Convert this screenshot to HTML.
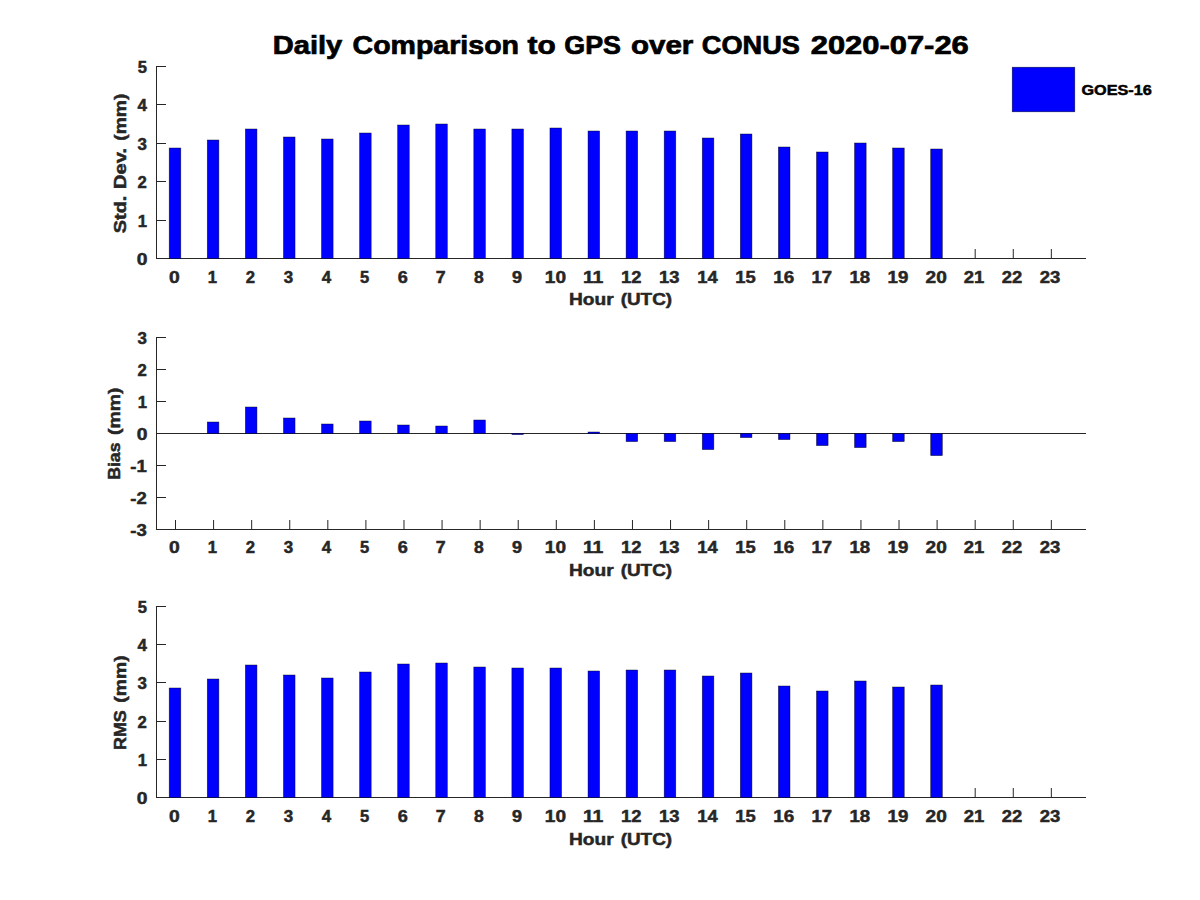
<!DOCTYPE html>
<html><head><meta charset="utf-8"><title>Daily Comparison to GPS over CONUS 2020-07-26</title>
<style>
html,body{margin:0;padding:0;background:#fff;width:1200px;height:900px;overflow:hidden}
svg{display:block}
text{font-family:"Liberation Sans",sans-serif;font-weight:bold}
</style></head>
<body>
<svg width="1200" height="900" viewBox="0 0 1200 900">
<rect x="0" y="0" width="1200" height="900" fill="#fff"/>
<text transform="translate(272.75 53.55) scale(1.1635 1)" font-size="25.02" fill="#000" stroke="#000" stroke-width="0.7">Daily</text>
<text transform="translate(352.56 53.55) scale(1.1403 1)" font-size="25.02" fill="#000" stroke="#000" stroke-width="0.7">Comparison</text>
<text transform="translate(527.56 53.55) scale(1.1957 1)" font-size="25.02" fill="#000" stroke="#000" stroke-width="0.7">to</text>
<text transform="translate(564.3 53.55) scale(1.0738 1)" font-size="25.02" fill="#000" stroke="#000" stroke-width="0.7">GPS</text>
<text transform="translate(630.93 53.55) scale(1.1801 1)" font-size="25.02" fill="#000" stroke="#000" stroke-width="0.7">over</text>
<text transform="translate(701.79 53.55) scale(1.0865 1)" font-size="25.02" fill="#000" stroke="#000" stroke-width="0.7">CONUS</text>
<text transform="translate(810.74 53.55) scale(1.2348 1)" font-size="25.02" fill="#000" stroke="#000" stroke-width="0.7">2020-07-26</text>
<rect x="156" y="66" width="1" height="193" fill="#262626"/>
<rect x="156" y="258" width="930" height="1" fill="#262626"/>
<rect x="156" y="258" width="10" height="1" fill="#262626"/>
<rect x="156" y="220" width="10" height="1" fill="#262626"/>
<rect x="156" y="181" width="10" height="1" fill="#262626"/>
<rect x="156" y="143" width="10" height="1" fill="#262626"/>
<rect x="156" y="104" width="10" height="1" fill="#262626"/>
<rect x="156" y="66" width="10" height="1" fill="#262626"/>
<rect x="175" y="249" width="1" height="9" fill="#262626"/>
<rect x="213.08" y="249" width="1" height="9" fill="#262626"/>
<rect x="251.16" y="249" width="1" height="9" fill="#262626"/>
<rect x="289.24" y="249" width="1" height="9" fill="#262626"/>
<rect x="327.32" y="249" width="1" height="9" fill="#262626"/>
<rect x="365.4" y="249" width="1" height="9" fill="#262626"/>
<rect x="403.48" y="249" width="1" height="9" fill="#262626"/>
<rect x="441.56" y="249" width="1" height="9" fill="#262626"/>
<rect x="479.64" y="249" width="1" height="9" fill="#262626"/>
<rect x="517.72" y="249" width="1" height="9" fill="#262626"/>
<rect x="555.8" y="249" width="1" height="9" fill="#262626"/>
<rect x="593.88" y="249" width="1" height="9" fill="#262626"/>
<rect x="631.96" y="249" width="1" height="9" fill="#262626"/>
<rect x="670.04" y="249" width="1" height="9" fill="#262626"/>
<rect x="708.12" y="249" width="1" height="9" fill="#262626"/>
<rect x="746.2" y="249" width="1" height="9" fill="#262626"/>
<rect x="784.28" y="249" width="1" height="9" fill="#262626"/>
<rect x="822.36" y="249" width="1" height="9" fill="#262626"/>
<rect x="860.44" y="249" width="1" height="9" fill="#262626"/>
<rect x="898.52" y="249" width="1" height="9" fill="#262626"/>
<rect x="936.6" y="249" width="1" height="9" fill="#262626"/>
<rect x="974.68" y="249" width="1" height="9" fill="#262626"/>
<rect x="1012.76" y="249" width="1" height="9" fill="#262626"/>
<rect x="1050.84" y="249" width="1" height="9" fill="#262626"/>
<rect x="169.2" y="148" width="11.6" height="110.5" fill="#0000ff" stroke="#000" stroke-opacity="0.7" stroke-width="0.6"/>
<rect x="207.27" y="140" width="11.6" height="118.5" fill="#0000ff" stroke="#000" stroke-opacity="0.7" stroke-width="0.6"/>
<rect x="245.35" y="129" width="11.6" height="129.5" fill="#0000ff" stroke="#000" stroke-opacity="0.7" stroke-width="0.6"/>
<rect x="283.43" y="137" width="11.6" height="121.5" fill="#0000ff" stroke="#000" stroke-opacity="0.7" stroke-width="0.6"/>
<rect x="321.5" y="139" width="11.6" height="119.5" fill="#0000ff" stroke="#000" stroke-opacity="0.7" stroke-width="0.6"/>
<rect x="359.57" y="133" width="11.6" height="125.5" fill="#0000ff" stroke="#000" stroke-opacity="0.7" stroke-width="0.6"/>
<rect x="397.65" y="125" width="11.6" height="133.5" fill="#0000ff" stroke="#000" stroke-opacity="0.7" stroke-width="0.6"/>
<rect x="435.73" y="124" width="11.6" height="134.5" fill="#0000ff" stroke="#000" stroke-opacity="0.7" stroke-width="0.6"/>
<rect x="473.8" y="129" width="11.6" height="129.5" fill="#0000ff" stroke="#000" stroke-opacity="0.7" stroke-width="0.6"/>
<rect x="511.87" y="129" width="11.6" height="129.5" fill="#0000ff" stroke="#000" stroke-opacity="0.7" stroke-width="0.6"/>
<rect x="549.95" y="128" width="11.6" height="130.5" fill="#0000ff" stroke="#000" stroke-opacity="0.7" stroke-width="0.6"/>
<rect x="588.03" y="131" width="11.6" height="127.5" fill="#0000ff" stroke="#000" stroke-opacity="0.7" stroke-width="0.6"/>
<rect x="626.1" y="131" width="11.6" height="127.5" fill="#0000ff" stroke="#000" stroke-opacity="0.7" stroke-width="0.6"/>
<rect x="664.18" y="131" width="11.6" height="127.5" fill="#0000ff" stroke="#000" stroke-opacity="0.7" stroke-width="0.6"/>
<rect x="702.25" y="138" width="11.6" height="120.5" fill="#0000ff" stroke="#000" stroke-opacity="0.7" stroke-width="0.6"/>
<rect x="740.33" y="134" width="11.6" height="124.5" fill="#0000ff" stroke="#000" stroke-opacity="0.7" stroke-width="0.6"/>
<rect x="778.4" y="147" width="11.6" height="111.5" fill="#0000ff" stroke="#000" stroke-opacity="0.7" stroke-width="0.6"/>
<rect x="816.48" y="152" width="11.6" height="106.5" fill="#0000ff" stroke="#000" stroke-opacity="0.7" stroke-width="0.6"/>
<rect x="854.55" y="143" width="11.6" height="115.5" fill="#0000ff" stroke="#000" stroke-opacity="0.7" stroke-width="0.6"/>
<rect x="892.63" y="148" width="11.6" height="110.5" fill="#0000ff" stroke="#000" stroke-opacity="0.7" stroke-width="0.6"/>
<rect x="930.7" y="149" width="11.6" height="109.5" fill="#0000ff" stroke="#000" stroke-opacity="0.7" stroke-width="0.6"/>
<text transform="translate(136.87 264.55) scale(1.1149 1)" font-size="17.31" fill="#262626" stroke="#262626" stroke-width="0.5">0</text>
<text transform="translate(137.65 226.55) scale(0.9651 1)" font-size="17.31" fill="#262626" stroke="#262626" stroke-width="0.5">1</text>
<text transform="translate(137.53 187.55) scale(0.9663 1)" font-size="17.31" fill="#262626" stroke="#262626" stroke-width="0.5">2</text>
<text transform="translate(137.52 149.55) scale(0.9780 1)" font-size="17.31" fill="#262626" stroke="#262626" stroke-width="0.5">3</text>
<text transform="translate(137.42 110.55) scale(0.9798 1)" font-size="17.31" fill="#262626" stroke="#262626" stroke-width="0.5">4</text>
<text transform="translate(137.63 72.55) scale(0.9565 1)" font-size="17.31" fill="#262626" stroke="#262626" stroke-width="0.5">5</text>
<text transform="translate(168.93 282.55) scale(1.1149 1)" font-size="17.31" fill="#262626" stroke="#262626" stroke-width="0.5">0</text>
<text transform="translate(207.79 282.55) scale(0.9651 1)" font-size="17.31" fill="#262626" stroke="#262626" stroke-width="0.5">1</text>
<text transform="translate(245.76 282.55) scale(0.9663 1)" font-size="17.31" fill="#262626" stroke="#262626" stroke-width="0.5">2</text>
<text transform="translate(283.83 282.55) scale(0.9780 1)" font-size="17.31" fill="#262626" stroke="#262626" stroke-width="0.5">3</text>
<text transform="translate(321.8 282.55) scale(0.9798 1)" font-size="17.31" fill="#262626" stroke="#262626" stroke-width="0.5">4</text>
<text transform="translate(360.09 282.55) scale(0.9565 1)" font-size="17.31" fill="#262626" stroke="#262626" stroke-width="0.5">5</text>
<text transform="translate(397.85 282.55) scale(1.0449 1)" font-size="17.31" fill="#262626" stroke="#262626" stroke-width="0.5">6</text>
<text transform="translate(435.83 282.55) scale(1.0230 1)" font-size="17.31" fill="#262626" stroke="#262626" stroke-width="0.5">7</text>
<text transform="translate(474.12 282.55) scale(1.0110 1)" font-size="17.31" fill="#262626" stroke="#262626" stroke-width="0.5">8</text>
<text transform="translate(511.89 282.55) scale(1.0449 1)" font-size="17.31" fill="#262626" stroke="#262626" stroke-width="0.5">9</text>
<text transform="translate(544.83 282.55) scale(1.1006 1)" font-size="17.31" fill="#262626" stroke="#262626" stroke-width="0.5">10</text>
<text transform="translate(582.89 282.55) scale(1.1214 1)" font-size="17.31" fill="#262626" stroke="#262626" stroke-width="0.5">11</text>
<text transform="translate(621.03 282.55) scale(1.0611 1)" font-size="17.31" fill="#262626" stroke="#262626" stroke-width="0.5">12</text>
<text transform="translate(659.1 282.55) scale(1.0667 1)" font-size="17.31" fill="#262626" stroke="#262626" stroke-width="0.5">13</text>
<text transform="translate(697.19 282.55) scale(1.0591 1)" font-size="17.31" fill="#262626" stroke="#262626" stroke-width="0.5">14</text>
<text transform="translate(735.27 282.55) scale(1.0604 1)" font-size="17.31" fill="#262626" stroke="#262626" stroke-width="0.5">15</text>
<text transform="translate(773.32 282.55) scale(1.0889 1)" font-size="17.31" fill="#262626" stroke="#262626" stroke-width="0.5">16</text>
<text transform="translate(811.42 282.55) scale(1.0726 1)" font-size="17.31" fill="#262626" stroke="#262626" stroke-width="0.5">17</text>
<text transform="translate(849.49 282.55) scale(1.0773 1)" font-size="17.31" fill="#262626" stroke="#262626" stroke-width="0.5">18</text>
<text transform="translate(887.57 282.55) scale(1.0778 1)" font-size="17.31" fill="#262626" stroke="#262626" stroke-width="0.5">19</text>
<text transform="translate(925.58 282.55) scale(1.1033 1)" font-size="17.31" fill="#262626" stroke="#262626" stroke-width="0.5">20</text>
<text transform="translate(963.67 282.55) scale(1.0695 1)" font-size="17.31" fill="#262626" stroke="#262626" stroke-width="0.5">21</text>
<text transform="translate(1001.75 282.55) scale(1.0649 1)" font-size="17.31" fill="#262626" stroke="#262626" stroke-width="0.5">22</text>
<text transform="translate(1039.83 282.55) scale(1.0703 1)" font-size="17.31" fill="#262626" stroke="#262626" stroke-width="0.5">23</text>
<text transform="translate(569.03 304.5) scale(1.1453 1)" font-size="16.73" fill="#262626" stroke="#262626" stroke-width="0.5">Hour</text>
<text transform="translate(620.63 304.5) scale(1.1318 1)" font-size="16.73" fill="#262626" stroke="#262626" stroke-width="0.5">(UTC)</text>
<text transform="translate(125.75 233.3) rotate(-90) scale(1.1941 1)" font-size="16.73" fill="#262626" stroke="#262626" stroke-width="0.5">Std.</text>
<text transform="translate(125.75 188.92) rotate(-90) scale(1.2043 1)" font-size="16.73" fill="#262626" stroke="#262626" stroke-width="0.5">Dev.</text>
<text transform="translate(125.75 140.63) rotate(-90) scale(1.1482 1)" font-size="16.73" fill="#262626" stroke="#262626" stroke-width="0.5">(mm)</text>
<rect x="156" y="337" width="1" height="193" fill="#262626"/>
<rect x="156" y="529" width="930" height="1" fill="#262626"/>
<rect x="156" y="529" width="10" height="1" fill="#262626"/>
<rect x="156" y="497" width="10" height="1" fill="#262626"/>
<rect x="156" y="465" width="10" height="1" fill="#262626"/>
<rect x="156" y="433" width="10" height="1" fill="#262626"/>
<rect x="156" y="401" width="10" height="1" fill="#262626"/>
<rect x="156" y="369" width="10" height="1" fill="#262626"/>
<rect x="156" y="337" width="10" height="1" fill="#262626"/>
<rect x="175" y="520" width="1" height="9" fill="#262626"/>
<rect x="213.08" y="520" width="1" height="9" fill="#262626"/>
<rect x="251.16" y="520" width="1" height="9" fill="#262626"/>
<rect x="289.24" y="520" width="1" height="9" fill="#262626"/>
<rect x="327.32" y="520" width="1" height="9" fill="#262626"/>
<rect x="365.4" y="520" width="1" height="9" fill="#262626"/>
<rect x="403.48" y="520" width="1" height="9" fill="#262626"/>
<rect x="441.56" y="520" width="1" height="9" fill="#262626"/>
<rect x="479.64" y="520" width="1" height="9" fill="#262626"/>
<rect x="517.72" y="520" width="1" height="9" fill="#262626"/>
<rect x="555.8" y="520" width="1" height="9" fill="#262626"/>
<rect x="593.88" y="520" width="1" height="9" fill="#262626"/>
<rect x="631.96" y="520" width="1" height="9" fill="#262626"/>
<rect x="670.04" y="520" width="1" height="9" fill="#262626"/>
<rect x="708.12" y="520" width="1" height="9" fill="#262626"/>
<rect x="746.2" y="520" width="1" height="9" fill="#262626"/>
<rect x="784.28" y="520" width="1" height="9" fill="#262626"/>
<rect x="822.36" y="520" width="1" height="9" fill="#262626"/>
<rect x="860.44" y="520" width="1" height="9" fill="#262626"/>
<rect x="898.52" y="520" width="1" height="9" fill="#262626"/>
<rect x="936.6" y="520" width="1" height="9" fill="#262626"/>
<rect x="974.68" y="520" width="1" height="9" fill="#262626"/>
<rect x="1012.76" y="520" width="1" height="9" fill="#262626"/>
<rect x="1050.84" y="520" width="1" height="9" fill="#262626"/>
<rect x="156" y="433" width="930" height="1" fill="#262626"/>
<rect x="207.27" y="422" width="11.6" height="11.5" fill="#0000ff" stroke="#000" stroke-opacity="0.7" stroke-width="0.6"/>
<rect x="245.35" y="407" width="11.6" height="26.5" fill="#0000ff" stroke="#000" stroke-opacity="0.7" stroke-width="0.6"/>
<rect x="283.43" y="418" width="11.6" height="15.5" fill="#0000ff" stroke="#000" stroke-opacity="0.7" stroke-width="0.6"/>
<rect x="321.5" y="424" width="11.6" height="9.5" fill="#0000ff" stroke="#000" stroke-opacity="0.7" stroke-width="0.6"/>
<rect x="359.57" y="421" width="11.6" height="12.5" fill="#0000ff" stroke="#000" stroke-opacity="0.7" stroke-width="0.6"/>
<rect x="397.65" y="425" width="11.6" height="8.5" fill="#0000ff" stroke="#000" stroke-opacity="0.7" stroke-width="0.6"/>
<rect x="435.73" y="426" width="11.6" height="7.5" fill="#0000ff" stroke="#000" stroke-opacity="0.7" stroke-width="0.6"/>
<rect x="473.8" y="420" width="11.6" height="13.5" fill="#0000ff" stroke="#000" stroke-opacity="0.7" stroke-width="0.6"/>
<rect x="511.87" y="433.5" width="11.6" height="1.1" fill="#0000ff" stroke="#000" stroke-opacity="0.7" stroke-width="0.6"/>
<rect x="588.03" y="432" width="11.6" height="1.5" fill="#0000ff" stroke="#000" stroke-opacity="0.7" stroke-width="0.6"/>
<rect x="626.1" y="433.5" width="11.6" height="8.1" fill="#0000ff" stroke="#000" stroke-opacity="0.7" stroke-width="0.6"/>
<rect x="664.18" y="433.5" width="11.6" height="8.1" fill="#0000ff" stroke="#000" stroke-opacity="0.7" stroke-width="0.6"/>
<rect x="702.25" y="433.5" width="11.6" height="16.1" fill="#0000ff" stroke="#000" stroke-opacity="0.7" stroke-width="0.6"/>
<rect x="740.33" y="433.5" width="11.6" height="4.1" fill="#0000ff" stroke="#000" stroke-opacity="0.7" stroke-width="0.6"/>
<rect x="778.4" y="433.5" width="11.6" height="6.1" fill="#0000ff" stroke="#000" stroke-opacity="0.7" stroke-width="0.6"/>
<rect x="816.48" y="433.5" width="11.6" height="12.1" fill="#0000ff" stroke="#000" stroke-opacity="0.7" stroke-width="0.6"/>
<rect x="854.55" y="433.5" width="11.6" height="14.1" fill="#0000ff" stroke="#000" stroke-opacity="0.7" stroke-width="0.6"/>
<rect x="892.63" y="433.5" width="11.6" height="8.1" fill="#0000ff" stroke="#000" stroke-opacity="0.7" stroke-width="0.6"/>
<rect x="930.7" y="433.5" width="11.6" height="22.1" fill="#0000ff" stroke="#000" stroke-opacity="0.7" stroke-width="0.6"/>
<text transform="translate(130.34 535.55) scale(1.0753 1)" font-size="17.31" fill="#262626" stroke="#262626" stroke-width="0.5">-3</text>
<text transform="translate(130.35 503.55) scale(1.0685 1)" font-size="17.31" fill="#262626" stroke="#262626" stroke-width="0.5">-2</text>
<text transform="translate(130.34 471.55) scale(1.0743 1)" font-size="17.31" fill="#262626" stroke="#262626" stroke-width="0.5">-1</text>
<text transform="translate(136.87 439.55) scale(1.1149 1)" font-size="17.31" fill="#262626" stroke="#262626" stroke-width="0.5">0</text>
<text transform="translate(137.65 407.55) scale(0.9651 1)" font-size="17.31" fill="#262626" stroke="#262626" stroke-width="0.5">1</text>
<text transform="translate(137.53 375.55) scale(0.9663 1)" font-size="17.31" fill="#262626" stroke="#262626" stroke-width="0.5">2</text>
<text transform="translate(137.52 343.55) scale(0.9780 1)" font-size="17.31" fill="#262626" stroke="#262626" stroke-width="0.5">3</text>
<text transform="translate(168.93 552.55) scale(1.1149 1)" font-size="17.31" fill="#262626" stroke="#262626" stroke-width="0.5">0</text>
<text transform="translate(207.79 552.55) scale(0.9651 1)" font-size="17.31" fill="#262626" stroke="#262626" stroke-width="0.5">1</text>
<text transform="translate(245.76 552.55) scale(0.9663 1)" font-size="17.31" fill="#262626" stroke="#262626" stroke-width="0.5">2</text>
<text transform="translate(283.83 552.55) scale(0.9780 1)" font-size="17.31" fill="#262626" stroke="#262626" stroke-width="0.5">3</text>
<text transform="translate(321.8 552.55) scale(0.9798 1)" font-size="17.31" fill="#262626" stroke="#262626" stroke-width="0.5">4</text>
<text transform="translate(360.09 552.55) scale(0.9565 1)" font-size="17.31" fill="#262626" stroke="#262626" stroke-width="0.5">5</text>
<text transform="translate(397.85 552.55) scale(1.0449 1)" font-size="17.31" fill="#262626" stroke="#262626" stroke-width="0.5">6</text>
<text transform="translate(435.83 552.55) scale(1.0230 1)" font-size="17.31" fill="#262626" stroke="#262626" stroke-width="0.5">7</text>
<text transform="translate(474.12 552.55) scale(1.0110 1)" font-size="17.31" fill="#262626" stroke="#262626" stroke-width="0.5">8</text>
<text transform="translate(511.89 552.55) scale(1.0449 1)" font-size="17.31" fill="#262626" stroke="#262626" stroke-width="0.5">9</text>
<text transform="translate(544.83 552.55) scale(1.1006 1)" font-size="17.31" fill="#262626" stroke="#262626" stroke-width="0.5">10</text>
<text transform="translate(582.89 552.55) scale(1.1214 1)" font-size="17.31" fill="#262626" stroke="#262626" stroke-width="0.5">11</text>
<text transform="translate(621.03 552.55) scale(1.0611 1)" font-size="17.31" fill="#262626" stroke="#262626" stroke-width="0.5">12</text>
<text transform="translate(659.1 552.55) scale(1.0667 1)" font-size="17.31" fill="#262626" stroke="#262626" stroke-width="0.5">13</text>
<text transform="translate(697.19 552.55) scale(1.0591 1)" font-size="17.31" fill="#262626" stroke="#262626" stroke-width="0.5">14</text>
<text transform="translate(735.27 552.55) scale(1.0604 1)" font-size="17.31" fill="#262626" stroke="#262626" stroke-width="0.5">15</text>
<text transform="translate(773.32 552.55) scale(1.0889 1)" font-size="17.31" fill="#262626" stroke="#262626" stroke-width="0.5">16</text>
<text transform="translate(811.42 552.55) scale(1.0726 1)" font-size="17.31" fill="#262626" stroke="#262626" stroke-width="0.5">17</text>
<text transform="translate(849.49 552.55) scale(1.0773 1)" font-size="17.31" fill="#262626" stroke="#262626" stroke-width="0.5">18</text>
<text transform="translate(887.57 552.55) scale(1.0778 1)" font-size="17.31" fill="#262626" stroke="#262626" stroke-width="0.5">19</text>
<text transform="translate(925.58 552.55) scale(1.1033 1)" font-size="17.31" fill="#262626" stroke="#262626" stroke-width="0.5">20</text>
<text transform="translate(963.67 552.55) scale(1.0695 1)" font-size="17.31" fill="#262626" stroke="#262626" stroke-width="0.5">21</text>
<text transform="translate(1001.75 552.55) scale(1.0649 1)" font-size="17.31" fill="#262626" stroke="#262626" stroke-width="0.5">22</text>
<text transform="translate(1039.83 552.55) scale(1.0703 1)" font-size="17.31" fill="#262626" stroke="#262626" stroke-width="0.5">23</text>
<text transform="translate(569.03 575.5) scale(1.1453 1)" font-size="16.73" fill="#262626" stroke="#262626" stroke-width="0.5">Hour</text>
<text transform="translate(620.63 575.5) scale(1.1318 1)" font-size="16.73" fill="#262626" stroke="#262626" stroke-width="0.5">(UTC)</text>
<text transform="translate(119.75 479.8) rotate(-90) scale(1.0559 1)" font-size="16.73" fill="#262626" stroke="#262626" stroke-width="0.5">Bias</text>
<text transform="translate(119.75 434.94) rotate(-90) scale(1.1633 1)" font-size="16.73" fill="#262626" stroke="#262626" stroke-width="0.5">(mm)</text>
<rect x="156" y="606" width="1" height="192" fill="#262626"/>
<rect x="156" y="797" width="930" height="1" fill="#262626"/>
<rect x="156" y="797" width="10" height="1" fill="#262626"/>
<rect x="156" y="759" width="10" height="1" fill="#262626"/>
<rect x="156" y="721" width="10" height="1" fill="#262626"/>
<rect x="156" y="682" width="10" height="1" fill="#262626"/>
<rect x="156" y="644" width="10" height="1" fill="#262626"/>
<rect x="156" y="606" width="10" height="1" fill="#262626"/>
<rect x="175" y="788" width="1" height="9" fill="#262626"/>
<rect x="213.08" y="788" width="1" height="9" fill="#262626"/>
<rect x="251.16" y="788" width="1" height="9" fill="#262626"/>
<rect x="289.24" y="788" width="1" height="9" fill="#262626"/>
<rect x="327.32" y="788" width="1" height="9" fill="#262626"/>
<rect x="365.4" y="788" width="1" height="9" fill="#262626"/>
<rect x="403.48" y="788" width="1" height="9" fill="#262626"/>
<rect x="441.56" y="788" width="1" height="9" fill="#262626"/>
<rect x="479.64" y="788" width="1" height="9" fill="#262626"/>
<rect x="517.72" y="788" width="1" height="9" fill="#262626"/>
<rect x="555.8" y="788" width="1" height="9" fill="#262626"/>
<rect x="593.88" y="788" width="1" height="9" fill="#262626"/>
<rect x="631.96" y="788" width="1" height="9" fill="#262626"/>
<rect x="670.04" y="788" width="1" height="9" fill="#262626"/>
<rect x="708.12" y="788" width="1" height="9" fill="#262626"/>
<rect x="746.2" y="788" width="1" height="9" fill="#262626"/>
<rect x="784.28" y="788" width="1" height="9" fill="#262626"/>
<rect x="822.36" y="788" width="1" height="9" fill="#262626"/>
<rect x="860.44" y="788" width="1" height="9" fill="#262626"/>
<rect x="898.52" y="788" width="1" height="9" fill="#262626"/>
<rect x="936.6" y="788" width="1" height="9" fill="#262626"/>
<rect x="974.68" y="788" width="1" height="9" fill="#262626"/>
<rect x="1012.76" y="788" width="1" height="9" fill="#262626"/>
<rect x="1050.84" y="788" width="1" height="9" fill="#262626"/>
<rect x="169.2" y="688" width="11.6" height="109.5" fill="#0000ff" stroke="#000" stroke-opacity="0.7" stroke-width="0.6"/>
<rect x="207.27" y="679" width="11.6" height="118.5" fill="#0000ff" stroke="#000" stroke-opacity="0.7" stroke-width="0.6"/>
<rect x="245.35" y="665" width="11.6" height="132.5" fill="#0000ff" stroke="#000" stroke-opacity="0.7" stroke-width="0.6"/>
<rect x="283.43" y="675" width="11.6" height="122.5" fill="#0000ff" stroke="#000" stroke-opacity="0.7" stroke-width="0.6"/>
<rect x="321.5" y="678" width="11.6" height="119.5" fill="#0000ff" stroke="#000" stroke-opacity="0.7" stroke-width="0.6"/>
<rect x="359.57" y="672" width="11.6" height="125.5" fill="#0000ff" stroke="#000" stroke-opacity="0.7" stroke-width="0.6"/>
<rect x="397.65" y="664" width="11.6" height="133.5" fill="#0000ff" stroke="#000" stroke-opacity="0.7" stroke-width="0.6"/>
<rect x="435.73" y="663" width="11.6" height="134.5" fill="#0000ff" stroke="#000" stroke-opacity="0.7" stroke-width="0.6"/>
<rect x="473.8" y="667" width="11.6" height="130.5" fill="#0000ff" stroke="#000" stroke-opacity="0.7" stroke-width="0.6"/>
<rect x="511.87" y="668" width="11.6" height="129.5" fill="#0000ff" stroke="#000" stroke-opacity="0.7" stroke-width="0.6"/>
<rect x="549.95" y="668" width="11.6" height="129.5" fill="#0000ff" stroke="#000" stroke-opacity="0.7" stroke-width="0.6"/>
<rect x="588.03" y="671" width="11.6" height="126.5" fill="#0000ff" stroke="#000" stroke-opacity="0.7" stroke-width="0.6"/>
<rect x="626.1" y="670" width="11.6" height="127.5" fill="#0000ff" stroke="#000" stroke-opacity="0.7" stroke-width="0.6"/>
<rect x="664.18" y="670" width="11.6" height="127.5" fill="#0000ff" stroke="#000" stroke-opacity="0.7" stroke-width="0.6"/>
<rect x="702.25" y="676" width="11.6" height="121.5" fill="#0000ff" stroke="#000" stroke-opacity="0.7" stroke-width="0.6"/>
<rect x="740.33" y="673" width="11.6" height="124.5" fill="#0000ff" stroke="#000" stroke-opacity="0.7" stroke-width="0.6"/>
<rect x="778.4" y="686" width="11.6" height="111.5" fill="#0000ff" stroke="#000" stroke-opacity="0.7" stroke-width="0.6"/>
<rect x="816.48" y="691" width="11.6" height="106.5" fill="#0000ff" stroke="#000" stroke-opacity="0.7" stroke-width="0.6"/>
<rect x="854.55" y="681" width="11.6" height="116.5" fill="#0000ff" stroke="#000" stroke-opacity="0.7" stroke-width="0.6"/>
<rect x="892.63" y="687" width="11.6" height="110.5" fill="#0000ff" stroke="#000" stroke-opacity="0.7" stroke-width="0.6"/>
<rect x="930.7" y="685" width="11.6" height="112.5" fill="#0000ff" stroke="#000" stroke-opacity="0.7" stroke-width="0.6"/>
<text transform="translate(136.87 803.55) scale(1.1149 1)" font-size="17.31" fill="#262626" stroke="#262626" stroke-width="0.5">0</text>
<text transform="translate(137.65 765.55) scale(0.9651 1)" font-size="17.31" fill="#262626" stroke="#262626" stroke-width="0.5">1</text>
<text transform="translate(137.53 727.55) scale(0.9663 1)" font-size="17.31" fill="#262626" stroke="#262626" stroke-width="0.5">2</text>
<text transform="translate(137.52 688.55) scale(0.9780 1)" font-size="17.31" fill="#262626" stroke="#262626" stroke-width="0.5">3</text>
<text transform="translate(137.42 650.55) scale(0.9798 1)" font-size="17.31" fill="#262626" stroke="#262626" stroke-width="0.5">4</text>
<text transform="translate(137.63 612.55) scale(0.9565 1)" font-size="17.31" fill="#262626" stroke="#262626" stroke-width="0.5">5</text>
<text transform="translate(168.93 821.55) scale(1.1149 1)" font-size="17.31" fill="#262626" stroke="#262626" stroke-width="0.5">0</text>
<text transform="translate(207.79 821.55) scale(0.9651 1)" font-size="17.31" fill="#262626" stroke="#262626" stroke-width="0.5">1</text>
<text transform="translate(245.76 821.55) scale(0.9663 1)" font-size="17.31" fill="#262626" stroke="#262626" stroke-width="0.5">2</text>
<text transform="translate(283.83 821.55) scale(0.9780 1)" font-size="17.31" fill="#262626" stroke="#262626" stroke-width="0.5">3</text>
<text transform="translate(321.8 821.55) scale(0.9798 1)" font-size="17.31" fill="#262626" stroke="#262626" stroke-width="0.5">4</text>
<text transform="translate(360.09 821.55) scale(0.9565 1)" font-size="17.31" fill="#262626" stroke="#262626" stroke-width="0.5">5</text>
<text transform="translate(397.85 821.55) scale(1.0449 1)" font-size="17.31" fill="#262626" stroke="#262626" stroke-width="0.5">6</text>
<text transform="translate(435.83 821.55) scale(1.0230 1)" font-size="17.31" fill="#262626" stroke="#262626" stroke-width="0.5">7</text>
<text transform="translate(474.12 821.55) scale(1.0110 1)" font-size="17.31" fill="#262626" stroke="#262626" stroke-width="0.5">8</text>
<text transform="translate(511.89 821.55) scale(1.0449 1)" font-size="17.31" fill="#262626" stroke="#262626" stroke-width="0.5">9</text>
<text transform="translate(544.83 821.55) scale(1.1006 1)" font-size="17.31" fill="#262626" stroke="#262626" stroke-width="0.5">10</text>
<text transform="translate(582.89 821.55) scale(1.1214 1)" font-size="17.31" fill="#262626" stroke="#262626" stroke-width="0.5">11</text>
<text transform="translate(621.03 821.55) scale(1.0611 1)" font-size="17.31" fill="#262626" stroke="#262626" stroke-width="0.5">12</text>
<text transform="translate(659.1 821.55) scale(1.0667 1)" font-size="17.31" fill="#262626" stroke="#262626" stroke-width="0.5">13</text>
<text transform="translate(697.19 821.55) scale(1.0591 1)" font-size="17.31" fill="#262626" stroke="#262626" stroke-width="0.5">14</text>
<text transform="translate(735.27 821.55) scale(1.0604 1)" font-size="17.31" fill="#262626" stroke="#262626" stroke-width="0.5">15</text>
<text transform="translate(773.32 821.55) scale(1.0889 1)" font-size="17.31" fill="#262626" stroke="#262626" stroke-width="0.5">16</text>
<text transform="translate(811.42 821.55) scale(1.0726 1)" font-size="17.31" fill="#262626" stroke="#262626" stroke-width="0.5">17</text>
<text transform="translate(849.49 821.55) scale(1.0773 1)" font-size="17.31" fill="#262626" stroke="#262626" stroke-width="0.5">18</text>
<text transform="translate(887.57 821.55) scale(1.0778 1)" font-size="17.31" fill="#262626" stroke="#262626" stroke-width="0.5">19</text>
<text transform="translate(925.58 821.55) scale(1.1033 1)" font-size="17.31" fill="#262626" stroke="#262626" stroke-width="0.5">20</text>
<text transform="translate(963.67 821.55) scale(1.0695 1)" font-size="17.31" fill="#262626" stroke="#262626" stroke-width="0.5">21</text>
<text transform="translate(1001.75 821.55) scale(1.0649 1)" font-size="17.31" fill="#262626" stroke="#262626" stroke-width="0.5">22</text>
<text transform="translate(1039.83 821.55) scale(1.0703 1)" font-size="17.31" fill="#262626" stroke="#262626" stroke-width="0.5">23</text>
<text transform="translate(569.03 844.5) scale(1.1453 1)" font-size="16.73" fill="#262626" stroke="#262626" stroke-width="0.5">Hour</text>
<text transform="translate(620.63 844.5) scale(1.1318 1)" font-size="16.73" fill="#262626" stroke="#262626" stroke-width="0.5">(UTC)</text>
<text transform="translate(125.75 749.91) rotate(-90) scale(1.0669 1)" font-size="16.73" fill="#262626" stroke="#262626" stroke-width="0.5">RMS</text>
<text transform="translate(125.75 702.64) rotate(-90) scale(1.1558 1)" font-size="16.73" fill="#262626" stroke="#262626" stroke-width="0.5">(mm)</text>
<rect x="1012.2" y="67.2" width="62.6" height="44.6" fill="#0000ff" stroke="#000" stroke-opacity="0.7" stroke-width="0.6"/>
<text transform="translate(1081.42 94.95) scale(1.0740 1)" font-size="15.13" fill="#000" stroke="#000" stroke-width="0.5">GOES-16</text>
</svg>
</body></html>
